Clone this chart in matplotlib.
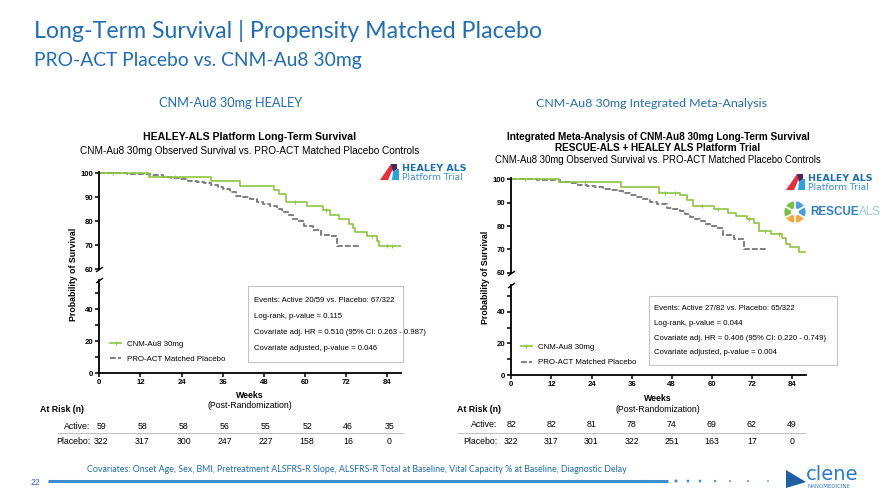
import numpy as np
import matplotlib
matplotlib.use('Agg')
from matplotlib import pyplot as plt
from matplotlib import patches, transforms
from matplotlib.lines import Line2D

W, H = 885, 498
BLUE = '#1f6db5'
GREEN = '#8cc63f'
GRAY = '#7f7f7f'
CHART_FONT = 'Liberation Sans'
SLIDE_FONT = 'Lato'

week_ticks = [0, 12, 24, 36, 48, 60, 72, 84]

# HEALEY panel (left)
healey_active_t = [0, 14.5, 32.7, 41.0, 51.0, 52.5, 54.4, 60.6, 65.1, 67.2, 70.0, 72.7, 73.9, 74.6,
                   78.0, 80.9, 81.6, 87.9]
healey_active_s = [100, 98.3, 96.7, 94.7, 93.0, 91.4, 87.8, 86.1, 84.4, 82.5, 80.8, 78.9, 77.2, 75.3,
                   73.6, 71.7, 69.7, 69.7]
healey_active_censor = [4, 22, 57, 66, 79.5, 84, 85.5]
healey_placebo_t = [0, 8.0, 14.8, 18.7, 21.0, 23.5, 26.0, 28.4, 30.5, 32.7, 34.5, 36.2, 38.0, 40.0,
                    42.0, 43.9, 46.0, 47.8, 49.8, 51.7, 53.2, 55.0, 56.6, 58.0, 59.6, 62.4, 64.8,
                    67.2, 69.4, 76.0]
healey_placebo_s = [100, 99.5, 99.0, 98.4, 97.9, 97.4, 96.8, 96.1, 95.7, 95.2, 94.3, 93.5, 92.0, 90.6,
                    89.9, 89.3, 88.0, 86.9, 86.2, 85.0, 83.8, 82.4, 80.9, 80.0, 77.8, 76.4, 74.3,
                    73.6, 69.7, 69.7]
healey_risk_active = [59, 58, 58, 56, 55, 52, 46, 35]
healey_risk_placebo = [322, 317, 300, 247, 227, 158, 16, 0]
healey_stats = ['Events: Active 20/59 vs. Placebo: 67/322',
                'Log-rank, p-value = 0.115',
                'Covariate adj. HR = 0.510 (95% CI: 0.263 - 0.987)',
                'Covariate adjusted, p-value = 0.046']

# Integrated meta-analysis panel (right)
meta_active_t = [0, 14.4, 32.7, 44.3, 50.5, 52.7, 54.5, 60.7, 64.7, 67.1, 70.5, 72.6, 74.0, 77.6,
                 81.0, 82.2, 83.4, 86.2, 88.2]
meta_active_s = [100, 98.9, 96.6, 94.3, 93.1, 91.1, 88.6, 87.1, 85.4, 84.3, 82.9, 81.1, 77.7, 76.6,
                 74.9, 72.3, 70.9, 68.9, 68.9]
meta_active_censor = [4, 8, 22, 46, 49, 57, 62, 71, 76, 80]
meta_placebo_t = [0, 7.6, 14.6, 17.6, 20.0, 22.6, 25.0, 27.5, 29.5, 31.5, 33.5, 35.5, 37.5, 39.5,
                  41.5, 43.5, 46.5, 48.5, 50.5, 52.0, 53.5, 55.0, 56.5, 58.0, 59.5, 61.5, 63.5,
                  66.5, 69.5, 76.2]
meta_placebo_s = [100, 99.5, 99.0, 98.4, 97.7, 97.1, 96.6, 96.0, 95.6, 95.1, 94.2, 93.4, 92.4, 91.4,
                  90.4, 89.4, 87.7, 87.2, 86.6, 85.3, 84.0, 83.0, 82.0, 81.0, 80.0, 79.1, 76.0,
                  74.6, 70.3, 70.3]
meta_risk_active = [82, 82, 81, 78, 74, 69, 62, 49]
meta_risk_placebo = [322, 317, 301, 322, 251, 163, 17, 0]
meta_stats = ['Events: Active 27/82 vs. Placebo: 65/322',
              'Log-rank, p-value = 0.044',
              'Covariate adj. HR = 0.406 (95% CI: 0.220 - 0.749)',
              'Covariate adjusted, p-value = 0.004']

covariates = ('Covariates: Onset Age, Sex, BMI, Pretreatment ALSFRS-R Slope, ALSFRS-R Total at Baseline, '
              'Vital Capacity % at Baseline, Diagnostic Delay')

fig = plt.figure(figsize=(W / 100, H / 100), dpi=100)
fig.patch.set_facecolor('white')


def rect(x0, y0, x1, y1):
    return [x0 / W, 1 - y1 / H, (x1 - x0) / W, (y1 - y0) / H]


def step_value(t, s, c):
    return s[np.searchsorted(t, c, side='right') - 1]


def km_panel(xpx, ytop, ylow, xmax, lowmax, active, placebo, censor):
    x0, x84 = xpx
    x1 = x0 + xmax * (x84 - x0) / 84
    y100, y60 = ytop
    ppu = (y60 - y100) / 40
    y0, y40 = ylow
    ppl = (y0 - y40) / 40
    ax_top = fig.add_axes(rect(x0, y100 - 0.6 * ppu, x1, y60))
    ax_low = fig.add_axes(rect(x0, y0 - lowmax * ppl, x1, y0))
    ax_top.set(xlim=(0, xmax), ylim=(60, 100.6))
    ax_low.set(xlim=(0, xmax), ylim=(0, lowmax))
    for ax in (ax_top, ax_low):
        ax.patch.set_alpha(0)
        for side in ('top', 'right'):
            ax.spines[side].set_visible(False)
        for side in ('left', 'bottom'):
            ax.spines[side].set_linewidth(1.3)
        ax.tick_params(width=1.1, length=3, pad=1.5)
    ax_top.spines['bottom'].set_visible(False)
    ax_top.set_xticks([])
    ax_top.set_yticks([60, 70, 80, 90, 100], ['60', '70', '80', '90', '100'],
                      fontweight='bold', fontsize=5.6, family=CHART_FONT)
    ax_low.set_yticks([0, 20, 40], ['0', '20', '40'], fontweight='bold', fontsize=5.6, family=CHART_FONT)
    ax_low.set_yticks([10, 30, 50], minor=True)
    ax_low.tick_params(axis='y', which='minor', width=1.1, length=3)
    ax_low.set_xticks(week_ticks, [str(w) for w in week_ticks], fontweight='bold', fontsize=5.6,
                      family=CHART_FONT)
    brk = dict(marker=[(-1, -0.7), (1, 0.7)], markersize=5, linestyle='none', color='k', mec='k',
               mew=1, clip_on=False)
    ax_top.plot([0], [0], transform=ax_top.transAxes, **brk)
    ax_low.plot([0], [1], transform=ax_low.transAxes, **brk)

    ax_top.step(placebo[0], placebo[1], where='post', color=GRAY, lw=1.4, dashes=(3, 1.1))
    ax_top.step(active[0], active[1], where='post', color=GREEN, lw=1.2)
    ax_top.plot(censor, [step_value(np.array(active[0]), active[1], c) for c in censor], '|',
                color=GREEN, ms=3, mew=0.8)
    return ax_top, ax_low


left_top, left_low = km_panel((99.3, 387.3), (173, 269), (373, 309), 88, 58,
                              (healey_active_t, healey_active_s),
                              (healey_placebo_t, healey_placebo_s), healey_active_censor)
right_top, right_low = km_panel((511.3, 792), (179.3, 272.7), (375, 311.7), 88.3, 57,
                                (meta_active_t, meta_active_s),
                                (meta_placebo_t, meta_placebo_s), meta_active_censor)

handles = [Line2D([], [], color=GREEN, lw=1.2, marker='|', ms=3, mew=0.8),
           Line2D([], [], color=GRAY, lw=1.4, dashes=(3, 1.1))]
labels = ['CNM-Au8 30mg', 'PRO-ACT Matched Placebo']
for lx, ly in [(110, 351.5), (520.7, 355)]:
    fig.legend(handles, labels, loc='center left', bbox_to_anchor=(lx / W, 1 - ly / H),
               frameon=False, prop={'family': CHART_FONT, 'size': 5.7}, handlelength=1.4,
               handletextpad=0.8, labelspacing=0.95, borderpad=0, borderaxespad=0)

# overlay in pixel coordinates for slide text and decorations
ov = fig.add_axes([0, 0, 1, 1], zorder=5)
ov.set_xlim(0, W)
ov.set_ylim(H, 0)
ov.axis('off')
ov.patch.set_alpha(0)

ov.text(34, 31, 'Long-Term Survival | Propensity Matched Placebo', color=BLUE, fontsize=16.7,
        family=SLIDE_FONT, va='center', ha='left')
ov.text(34, 60, 'PRO-ACT Placebo vs. CNM-Au8 30mg', color=BLUE, fontsize=13.9,
        family=SLIDE_FONT, va='center', ha='left')
ov.text(231, 103, 'CNM-Au8 30mg HEALEY', color=BLUE, fontsize=9.2, family=SLIDE_FONT,
        va='center', ha='center')
ov.text(652, 103, 'CNM-Au8 30mg Integrated Meta-Analysis', color=BLUE, fontsize=8.9,
        family=SLIDE_FONT, va='center', ha='center')

# chart titles
ov.text(250, 137.3, 'HEALEY-ALS Platform Long-Term Survival', fontsize=7.6, fontweight='bold',
        family=CHART_FONT, ha='center', va='center')
ov.text(250, 150.7, 'CNM-Au8 30mg Observed Survival vs. PRO-ACT Matched Placebo Controls',
        fontsize=7.2, family=CHART_FONT, ha='center', va='center')
ov.text(658, 137.3, 'Integrated Meta-Analysis of CNM-Au8 30mg Long-Term Survival', fontsize=7.2,
        fontweight='bold', family=CHART_FONT, ha='center', va='center')
ov.text(658, 148.3, 'RESCUE-ALS + HEALEY ALS Platform Trial', fontsize=7.2, fontweight='bold',
        family=CHART_FONT, ha='center', va='center')
ov.text(658, 160, 'CNM-Au8 30mg Observed Survival vs. PRO-ACT Matched Placebo Controls',
        fontsize=6.9, family=CHART_FONT, ha='center', va='center')

# axis labels
for x, y in [(73.3, 274), (485, 277)]:
    ov.text(x, y, 'Probability of Survival', rotation=90, fontsize=6.3, fontweight='bold',
            family=CHART_FONT, ha='center', va='center')
for x, y1, y2 in [(250, 395, 405.5), (658, 398, 409)]:
    ov.text(x, y1, 'Weeks', fontsize=6.3, fontweight='bold', family=CHART_FONT, ha='center',
            va='center')
    ov.text(x, y2, '(Post-Randomization)', fontsize=6.3, family=CHART_FONT, ha='center', va='center')

# stats boxes
for (bx0, by0, bx1, by1, ys, lines) in [(248.3, 285.7, 403.3, 361.7, [300, 316, 332, 348.7], healey_stats),
                                         (649, 295.7, 836.7, 365, [308.3, 323.3, 338.3, 352.7], meta_stats)]:
    ov.add_patch(patches.Rectangle((bx0, by0), bx1 - bx0, by1 - by0, fill=False,
                                   edgecolor='#c4c4c4', lw=0.8))
    for y, line in zip(ys, lines):
        ov.text(bx0 + 5.5, y, line, fontsize=5.6, family=CHART_FONT, ha='left', va='center')

# at-risk tables
for ax, rx, head_x, lab_x, ys, line_x, act, plc in [
        (left_low, 0.6, 40, 90, (409, 426, 441.7, 432.7), (58, 403), healey_risk_active, healey_risk_placebo),
        (right_low, 0.0, 457, 497, (409, 424, 441, 432.7), (458, 805), meta_risk_active, meta_risk_placebo)]:
    tr = transforms.blended_transform_factory(ax.transData, ov.transData)
    ov.text(head_x, ys[0], 'At Risk (n)', fontsize=6.3, fontweight='bold', family=CHART_FONT,
            ha='left', va='center')
    ov.text(lab_x, ys[1], 'Active:', fontsize=6.3, family=CHART_FONT, ha='right', va='center')
    ov.text(lab_x, ys[2], 'Placebo:', fontsize=6.3, family=CHART_FONT, ha='right', va='center')
    ov.plot(line_x, [ys[3], ys[3]], color='#bdbdbd', lw=0.7)
    for w, a, p in zip(week_ticks, act, plc):
        ov.text(w + rx, ys[1], str(a), transform=tr, fontsize=6.3, family=CHART_FONT,
                ha='center', va='center')
        ov.text(w + rx, ys[2], str(p), transform=tr, fontsize=6.3, family=CHART_FONT,
                ha='center', va='center')


# logos
def healey_logo(x, y):
    ov.add_patch(patches.Polygon([(x, y + 16), (x + 11, y), (x + 15, y), (x + 8, y + 16)],
                                 color='#e8303c', lw=0))
    ov.add_patch(patches.Polygon([(x + 11, y), (x + 17, y), (x + 17, y + 5), (x + 13, y + 8)],
                                 color='#4b2466', lw=0))
    ov.add_patch(patches.Polygon([(x + 13, y + 8), (x + 17, y + 5), (x + 19, y + 5), (x + 19, y + 16),
                                  (x + 12, y + 16)], color='#2aa3dd', lw=0))
    ov.text(x + 22, y + 4.5, 'HEALEY ALS', color='#1f6db5', fontsize=6.8, fontweight='bold',
            family='DejaVu Sans', ha='left', va='center')
    ov.text(x + 22, y + 13, 'Platform Trial', color='#3b8fd6', fontsize=6.6,
            family='DejaVu Sans', ha='left', va='center')


healey_logo(380, 164)
healey_logo(786, 174)

cx, cy, r = 795, 212, 11.5
for a0, col in [(30, '#f6a93b'), (90, '#f6a93b'), (150, '#7cbf45'), (210, '#7cbf45'),
                (270, '#4a9ede'), (330, '#4a9ede')]:
    ov.add_patch(patches.Wedge((cx, cy), r, a0, a0 + 60, facecolor=col, edgecolor='white', lw=1.2))
ov.add_patch(patches.Circle((cx, cy), 3.2, color='white'))
rescue = ov.text(810, 212, 'RESCUE', color='#2f7cc6', fontsize=8.4, fontweight='bold',
                 family='Liberation Sans', ha='left', va='center')
ov.annotate('ALS', xy=(1, 0.5), xycoords=rescue, color='#9cc7ec', fontsize=8.4,
            family='Liberation Sans', ha='left', va='center')

# footer
ov.text(87, 469, covariates, color=BLUE, fontsize=6.4, family=SLIDE_FONT, ha='left', va='center')
ov.text(36, 482, '22', color=BLUE, fontsize=6, family=SLIDE_FONT, ha='center', va='center')
ov.plot([48, 668], [481, 481], color='#3f8fd0', lw=2.2, solid_capstyle='butt')
ov.scatter([676, 688, 700, 715, 730, 748, 768], [481] * 7, s=[5, 4, 4, 3, 2, 2, 1.5], color='#3f8fd0',
           lw=0)
ov.add_patch(patches.Polygon([(786, 470), (786, 488), (806, 482)], color='#1e5fa3', lw=0))
ov.text(806, 474, 'clene', color='#2b7cc4', fontsize=14, family='DejaVu Sans', ha='left', va='center')
ov.text(808, 486, 'NANOMEDICINE', color='#2b7cc4', fontsize=4, family='DejaVu Sans', ha='left',
        va='center')

fig.savefig('out.png', dpi=100)
plt.close(fig)
